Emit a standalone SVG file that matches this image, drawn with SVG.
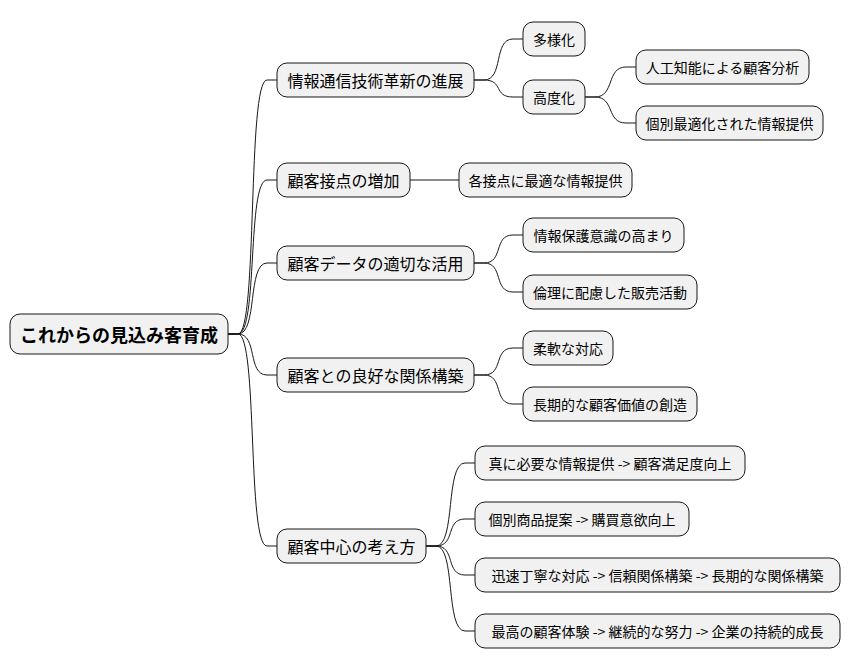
<svg xmlns="http://www.w3.org/2000/svg" width="852" height="668" viewBox="0 0 852 668">
<style>
rect{fill:#F1F1F1;stroke:#181818;stroke-width:1}
text{font-family:"Noto Sans CJK JP","Noto Sans",sans-serif;font-size:14px;fill:#000;text-anchor:middle;dominant-baseline:central}
.root{font-size:18px;font-weight:bold}
.l1{font-size:16px}
#connectors path{fill:none;stroke:#181818;stroke-width:1}
</style>
<rect x="0" y="0" width="852" height="668" style="fill:#fff;stroke:none"/>
<g id="connectors">
<path d="M228,334 L238,334 C258,334 247,80 267,80 L277,80"/>
<path d="M228,334 L238,334 C258,334 247,180 267,180 L277,180"/>
<path d="M228,334 L238,334 C258,334 247,263 267,263 L277,263"/>
<path d="M228,334 L238,334 C258,334 247,375 267,375 L277,375"/>
<path d="M228,334 L238,334 C258,334 247,546 267,546 L277,546"/>
<path d="M474,80 L484,80 C504,80 493,39 513,39 L523,39"/>
<path d="M474,80 L484,80 C504,80 493,97 513,97 L523,97"/>
<path d="M585,97 L595,97 C615,97 606,67 626,67 L636,67"/>
<path d="M585,97 L595,97 C615,97 606,123 626,123 L636,123"/>
<path d="M410,180 L459,180"/>
<path d="M474,263 L484,263 C504,263 493,235 513,235 L523,235"/>
<path d="M474,263 L484,263 C504,263 493,292 513,292 L523,292"/>
<path d="M474,375 L484,375 C504,375 493,348 513,348 L523,348"/>
<path d="M474,375 L484,375 C504,375 493,404 513,404 L523,404"/>
<path d="M426,546 L436,546 C456,546 445,463 465,463 L475,463"/>
<path d="M426,546 L436,546 C456,546 445,519 465,519 L475,519"/>
<path d="M426,546 L436,546 C456,546 445,575 465,575 L475,575"/>
<path d="M426,546 L436,546 C456,546 445,631 465,631 L475,631"/>
</g>
<g id="root"><rect x="10" y="314" width="218" height="40" rx="10"/><text class="root" x="119" y="334">これからの見込み客育成</text></g>
<g id="n1"><rect x="277" y="63" width="197" height="34" rx="10"/><text class="l1" x="375.5" y="80">情報通信技術革新の進展</text></g>
<g id="n2"><rect x="277" y="163" width="133" height="34" rx="10"/><text class="l1" x="343.5" y="180">顧客接点の増加</text></g>
<g id="n3"><rect x="277" y="246" width="197" height="34" rx="10"/><text class="l1" x="375.5" y="263">顧客データの適切な活用</text></g>
<g id="n4"><rect x="277" y="358" width="197" height="34" rx="10"/><text class="l1" x="375.5" y="375">顧客との良好な関係構築</text></g>
<g id="n5"><rect x="277" y="529" width="149" height="34" rx="10"/><text class="l1" x="351.5" y="546">顧客中心の考え方</text></g>
<g id="n1a"><rect x="523" y="22" width="62" height="34" rx="10"/><text x="554" y="39">多様化</text></g>
<g id="n1b"><rect x="523" y="80" width="62" height="34" rx="10"/><text x="554" y="97">高度化</text></g>
<g id="n1b1"><rect x="636" y="50" width="173" height="34" rx="10"/><text x="722.5" y="67">人工知能による顧客分析</text></g>
<g id="n1b2"><rect x="636" y="106" width="187" height="34" rx="10"/><text x="729.5" y="123">個別最適化された情報提供</text></g>
<g id="n2a"><rect x="459" y="163" width="173" height="34" rx="10"/><text x="545.5" y="180">各接点に最適な情報提供</text></g>
<g id="n3a"><rect x="523" y="218" width="161" height="34" rx="10"/><text x="603.5" y="235">情報保護意識の高まり</text></g>
<g id="n3b"><rect x="523" y="275" width="174" height="34" rx="10"/><text x="610" y="292">倫理に配慮した販売活動</text></g>
<g id="n4a"><rect x="523" y="331" width="90" height="34" rx="10"/><text x="568" y="348">柔軟な対応</text></g>
<g id="n4b"><rect x="523" y="387" width="174" height="34" rx="10"/><text x="610" y="404">長期的な顧客価値の創造</text></g>
<g id="n5a"><rect x="475" y="446" width="270" height="34" rx="10"/><text x="610" y="463">真に必要な情報提供 -&gt; 顧客満足度向上</text></g>
<g id="n5b"><rect x="475" y="502" width="214" height="34" rx="10"/><text x="582" y="519">個別商品提案 -&gt; 購買意欲向上</text></g>
<g id="n5c"><rect x="475" y="558" width="365" height="34" rx="10"/><text x="657.5" y="575">迅速丁寧な対応 -&gt; 信頼関係構築 -&gt; 長期的な関係構築</text></g>
<g id="n5d"><rect x="475" y="614" width="365" height="34" rx="10"/><text x="657.5" y="631">最高の顧客体験 -&gt; 継続的な努力 -&gt; 企業の持続的成長</text></g>
</svg>
